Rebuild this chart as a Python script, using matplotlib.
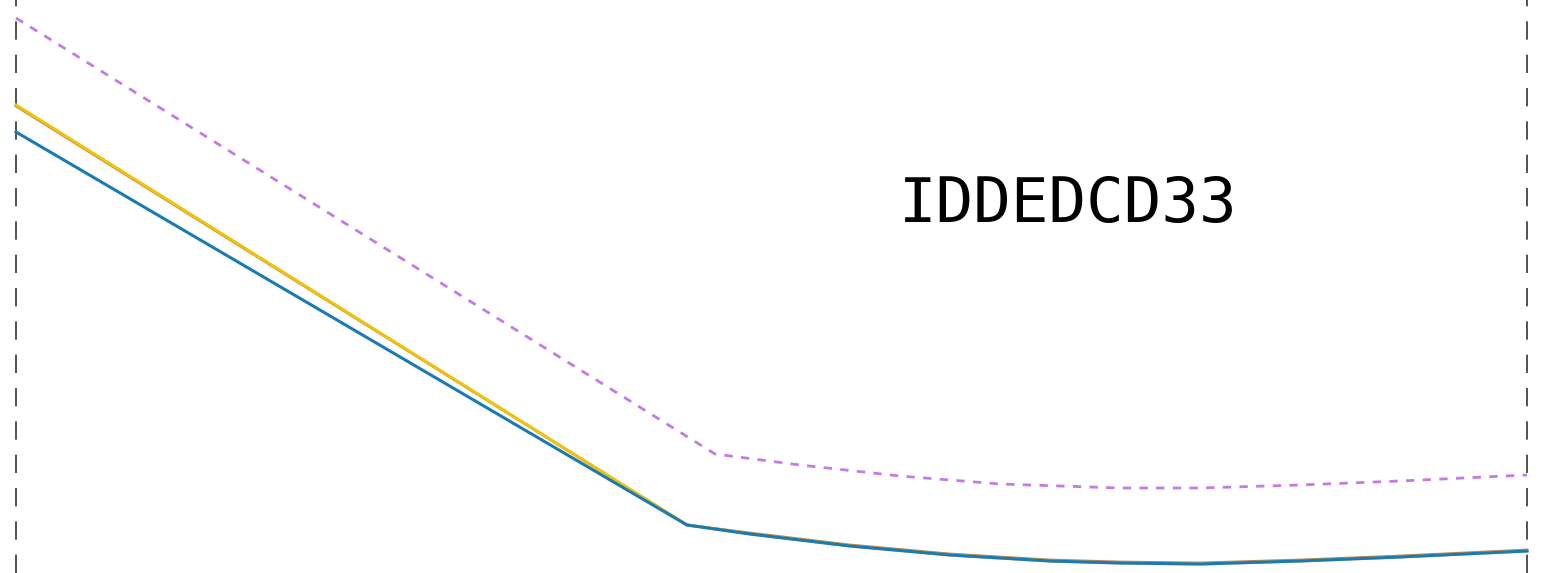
import matplotlib.pyplot as plt

# data (x and y, y grows downward)
x_main = [16, 687, 750, 850, 950, 1050, 1120, 1200, 1300, 1400, 1527]
blue = [132, 525, 534, 546, 555, 561, 563, 564, 561, 557, 551]
yellow = [105, 525, 534, 546, 555, 561, 563, 564, 561, 557, 551]
brown = [106, 525, 533, 545, 554, 560, 562, 563, 560, 556, 550]

x_purple = [16, 715, 800, 900, 1000, 1120, 1200, 1300, 1400, 1527]
purple = [18, 454, 465, 476, 484, 488, 488, 485, 481, 475]

bounds = [16, 1527]
label = 'IDDEDCD33'

fig = plt.figure(figsize=(15.42, 5.73), dpi=100)
ax = fig.add_axes([0, 0, 1, 1])
ax.set_xlim(0, 1542)
ax.set_ylim(573, 0)
ax.axis('off')

for b in bounds:
    ax.axvline(b, color='#333333', lw=1.2, ls=(0, (11, 9)))

ax.plot(x_purple, purple, color='#c27ce6', lw=2, ls=(0, (3, 3)))
ax.plot(x_main, brown, color='#b5835a', lw=2)
ax.plot(x_main, yellow, color='#f0c20c', lw=2.2)
ax.plot(x_main, blue, color='#1a7bb4', lw=2.2)

ax.text(1068, 205, label, fontsize=45, family='DejaVu Sans Mono',
        ha='center', va='center')

plt.savefig('out.png', dpi=100)
